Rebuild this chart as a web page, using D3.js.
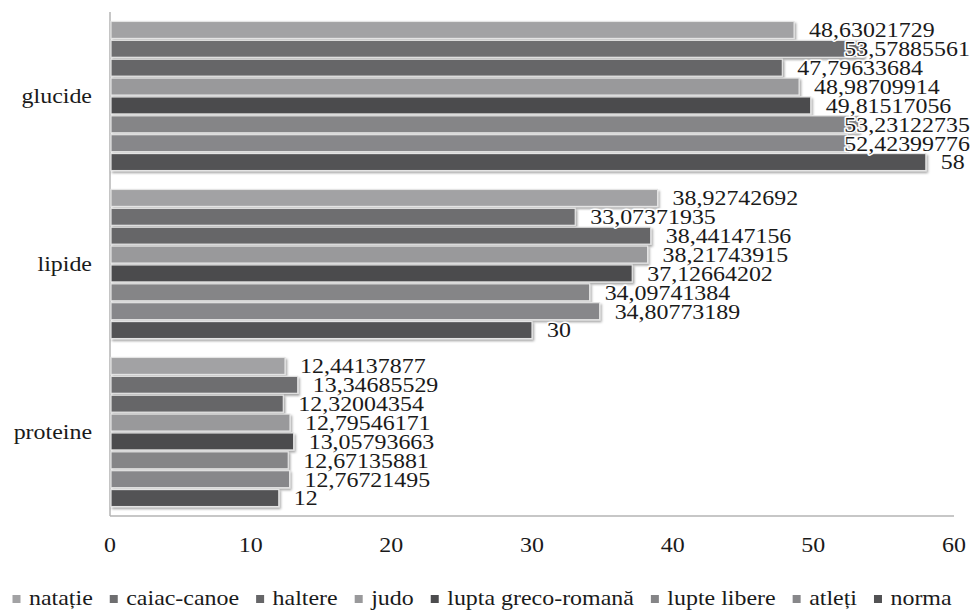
<!DOCTYPE html>
<html>
<head>
<meta charset="utf-8">
<script src="https://cdn.jsdelivr.net/npm/d3@7"></script>
<style>
  html, body { margin: 0; padding: 0; background: #fff; }
  svg { display: block; }
</style>
</head>
<body>
<svg id="chart" width="975" height="611"></svg>
<script>
// Nutrient categories (top to bottom)
const categories = ["glucide", "lipide", "proteine"];

// Series names, in legend / bar order
const seriesNames = ["natație", "caiac-canoe", "haltere", "judo", "lupta greco-romană", "lupte libere", "atleți", "norma"];

// Values per series: [glucide, lipide, proteine]
const natatie      = [48.63021729, 38.92742692, 12.44137877];
const caiacCanoe   = [53.57885561, 33.07371935, 13.34685529];
const haltere      = [47.79633684, 38.44147156, 12.32004354];
const judo         = [48.98709914, 38.21743915, 12.79546171];
const luptaGreco   = [49.81517056, 37.12664202, 13.05793663];
const lupteLibere  = [53.23122735, 34.09741384, 12.67135881];
const atleti       = [52.42399776, 34.80773189, 12.76721495];
const norma        = [58, 30, 12];

const seriesColors = ["#a2a2a4", "#6e6e70", "#666668", "#99999b", "#4c4c4e", "#858587", "#87878a", "#525254"];

const xTicks = [0, 10, 20, 30, 40, 50, 60];

const seriesValues = [natatie, caiacCanoe, haltere, judo, luptaGreco, lupteLibere, atleti, norma];

// Pick the first installed serif face
function pickSerif() {
  const cands = ["Liberation Serif", "Tinos", "Times New Roman", "DejaVu Serif", "Noto Serif", "FreeSerif", "Nimbus Roman", "Times"];
  const ctx = document.createElement("canvas").getContext("2d");
  const probe = "glucide 0123456789 mmmWWiil";
  const base = {};
  ["monospace", "sans-serif"].forEach(b => { ctx.font = `40px ${b}`; base[b] = ctx.measureText(probe).width; });
  for (const c of cands) {
    let differs = true;
    for (const b of ["monospace", "sans-serif"]) {
      ctx.font = `40px "${c}", ${b}`;
      if (Math.abs(ctx.measureText(probe).width - base[b]) < 0.01) differs = false;
    }
    if (differs) return `"${c}", serif`;
  }
  return "serif";
}
const SERIF = pickSerif();

const FONT = 21, SX = 1.14;
const svg = d3.select("#chart").attr("font-family", SERIF);

// Layout
const plot = { left: 110, right: 954, top: 12, bottom: 516 };

const x = d3.scaleLinear().domain([0, 60]).range([plot.left, plot.right]);
const y0 = d3.scaleBand().domain(categories).range([plot.top, plot.bottom]).padding(0);
const y1 = d3.scaleBand().domain(d3.range(seriesNames.length))
  .range([8.5, y0.bandwidth() - 8.5]).paddingInner(0.1).paddingOuter(0.05);

// Soft shadow under the bars
const defs = svg.append("defs");
const f = defs.append("filter").attr("id", "shadow")
  .attr("x", "-5%").attr("y", "-30%").attr("width", "115%").attr("height", "180%");
f.append("feDropShadow").attr("dx", 1.5).attr("dy", 2).attr("stdDeviation", 1.3)
  .attr("flood-color", "#000").attr("flood-opacity", 0.35);

// Axis lines
svg.append("line")
  .attr("x1", x(0)).attr("x2", x(0)).attr("y1", plot.top).attr("y2", plot.bottom)
  .attr("stroke", "#b4b4b4").attr("stroke-width", 1.5);
svg.append("line")
  .attr("x1", x(0)).attr("x2", x(60)).attr("y1", plot.bottom).attr("y2", plot.bottom)
  .attr("stroke", "#b4b4b4").attr("stroke-width", 1.5);

// Bars
const rows = [];
categories.forEach((c, ci) => {
  seriesValues.forEach((vals, si) => rows.push({ cat: c, s: si, v: vals[ci] }));
});

const gBars = svg.append("g");
gBars.selectAll("rect").data(rows).join("rect")
  .attr("x", x(0) + 1)
  .attr("y", d => y0(d.cat) + y1(d.s))
  .attr("width", d => x(d.v) - x(0) - 1)
  .attr("height", y1.bandwidth())
  .attr("fill", d => seriesColors[d.s])
  .attr("stroke", "#e4e4e4").attr("stroke-width", 1.2)
  .attr("filter", "url(#shadow)");

// Helper: serif text node
function serifText(sel) {
  return sel.append("text")
    .style("font-family", SERIF)
    .attr("font-size", FONT)
    .attr("fill", "#1a1a1a");
}

// Value labels
const fmt = v => String(v).replace(".", ",");
const gLab = svg.append("g");
rows.forEach(d => {
  const t = serifText(gLab)
    .attr("dy", "0.35em")
    .attr("stroke", "#fff").attr("stroke-width", 3).attr("stroke-linejoin", "round")
    .attr("paint-order", "stroke")
    .text(fmt(d.v));
  const w = t.node().getComputedTextLength() * SX;
  let tx = x(d.v) + 15;
  if (tx + w > 970) tx = 970 - w;
  const ty = y0(d.cat) + y1(d.s) + y1.bandwidth() / 2;
  t.attr("transform", `translate(${tx},${ty}) scale(${SX},1)`);
});

// Category labels
const gCat = svg.append("g");
categories.forEach(c => {
  serifText(gCat)
    .attr("text-anchor", "end")
    .attr("dy", "0.35em")
    .attr("transform", `translate(${x(0) - 18},${y0(c) + y0.bandwidth() / 2}) scale(${SX},1)`)
    .text(c);
});

// X tick labels
const gTick = svg.append("g");
xTicks.forEach(v => {
  serifText(gTick)
    .attr("text-anchor", "middle")
    .attr("transform", `translate(${x(v)},552) scale(${SX},1)`)
    .text(v);
});

// Legend
const gLeg = svg.append("g");
let lx = 12.5;
seriesNames.forEach((name, i) => {
  gLeg.append("rect")
    .attr("x", lx).attr("y", 595).attr("width", 8).attr("height", 8)
    .attr("fill", seriesColors[i]);
  const t = serifText(gLeg)
    .attr("transform", `translate(${lx + 16.5},605) scale(${SX},1)`)
    .text(name);
  const w = t.node().getComputedTextLength() * SX;
  lx = lx + 16.5 + w + 17;
});
</script>
</body>
</html>
